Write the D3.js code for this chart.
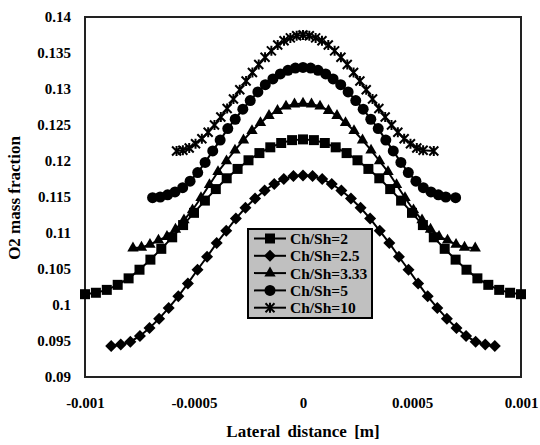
<!DOCTYPE html>
<html>
<head>
<meta charset="utf-8">
<script src="https://cdn.jsdelivr.net/npm/d3@7"></script>
<style>
  body { margin: 0; background: #fff; }
  text { font-family: "Liberation Serif", "Times New Roman", serif; font-weight: bold; fill: #000; }
</style>
</head>
<body>
<div id="chart"></div>
<script>
// tick labels
const xTicks = [-0.001, -0.0005, 0, 0.0005, 0.001];
const xTickLabels = ['-0.001', '-0.0005', '0', '0.0005', '0.001'];
const yTicks = [0.09, 0.095, 0.1, 0.105, 0.11, 0.115, 0.12, 0.125, 0.13, 0.135, 0.14];
const yTickLabels = ['0.09', '0.095', '0.1', '0.105', '0.11', '0.115', '0.12', '0.125', '0.13', '0.135', '0.14'];

const seriesNames = ['Ch/Sh=2', 'Ch/Sh=2.5', 'Ch/Sh=3.33', 'Ch/Sh=5', 'Ch/Sh=10'];

// Ch/Sh=2 (squares)
const x2 = [-0.001, -0.00095, -0.0009, -0.00085, -0.0008, -0.00075, -0.0007, -0.00065, -0.0006, -0.00055, -0.0005,
  -0.00045, -0.0004, -0.00035, -0.0003, -0.00025, -0.0002, -0.00015, -0.0001, -0.00005, 0,
  0.00005, 0.0001, 0.00015, 0.0002, 0.00025, 0.0003, 0.00035, 0.0004, 0.00045, 0.0005,
  0.00055, 0.0006, 0.00065, 0.0007, 0.00075, 0.0008, 0.00085, 0.0009, 0.00095, 0.001];
const y2 = [0.1015, 0.1017, 0.1021, 0.1028, 0.1037, 0.1049, 0.1063, 0.1078, 0.1094, 0.1111, 0.1128,
  0.1145, 0.1161, 0.1176, 0.1189, 0.1201, 0.1211, 0.1219, 0.1225, 0.1229, 0.1230,
  0.1229, 0.1225, 0.1219, 0.1211, 0.1201, 0.1189, 0.1176, 0.1161, 0.1145, 0.1128,
  0.1111, 0.1094, 0.1078, 0.1063, 0.1049, 0.1037, 0.1028, 0.1021, 0.1017, 0.1015];

// Ch/Sh=2.5 (diamonds)
const x25 = [-0.00088, -0.000836, -0.000792, -0.000748, -0.000704, -0.00066, -0.000616, -0.000572, -0.000528, -0.000484, -0.00044,
  -0.000396, -0.000352, -0.000308, -0.000264, -0.00022, -0.000176, -0.000132, -0.000088, -0.000044, 0,
  0.000044, 0.000088, 0.000132, 0.000176, 0.00022, 0.000264, 0.000308, 0.000352, 0.000396, 0.00044,
  0.000484, 0.000528, 0.000572, 0.000616, 0.00066, 0.000704, 0.000748, 0.000792, 0.000836, 0.00088];
const y25 = [0.0943, 0.0945, 0.0949, 0.0957, 0.0968, 0.0981, 0.0996, 0.1012, 0.1030, 0.1049, 0.1067,
  0.1086, 0.1103, 0.1120, 0.1135, 0.1148, 0.1159, 0.1168, 0.1175, 0.1179, 0.1180,
  0.1179, 0.1175, 0.1168, 0.1159, 0.1148, 0.1135, 0.1120, 0.1103, 0.1086, 0.1067,
  0.1049, 0.1030, 0.1012, 0.0996, 0.0981, 0.0968, 0.0957, 0.0949, 0.0945, 0.0943];

// Ch/Sh=3.33 (triangles)
const x333 = [-0.00078, -0.000741, -0.000702, -0.000663, -0.000624, -0.000585, -0.000546, -0.000507, -0.000468, -0.000429, -0.00039,
  -0.000351, -0.000312, -0.000273, -0.000234, -0.000195, -0.000156, -0.000117, -0.000078, -0.000039, 0,
  0.000039, 0.000078, 0.000117, 0.000156, 0.000195, 0.000234, 0.000273, 0.000312, 0.000351, 0.00039,
  0.000429, 0.000468, 0.000507, 0.000546, 0.000585, 0.000624, 0.000663, 0.000702, 0.000741, 0.00079];
const y333 = [0.1079, 0.1080, 0.1084, 0.1090, 0.1095, 0.1105, 0.1118, 0.1132, 0.1149, 0.1167, 0.1185,
  0.1200, 0.1215, 0.1229, 0.1242, 0.1253, 0.1263, 0.1270, 0.1276, 0.1279, 0.1280,
  0.1279, 0.1276, 0.1270, 0.1263, 0.1253, 0.1242, 0.1229, 0.1215, 0.1200, 0.1185,
  0.1167, 0.1149, 0.1132, 0.1118, 0.1105, 0.1095, 0.1090, 0.1084, 0.1080, 0.1079];

// Ch/Sh=5 (circles)
const x5 = [-0.00069, -0.000655, -0.000621, -0.000587, -0.000552, -0.000518, -0.000483, -0.000449, -0.000414, -0.00038, -0.000345,
  -0.000311, -0.000276, -0.000242, -0.000207, -0.000173, -0.000138, -0.000104, -0.000069, -0.000035, 0,
  0.000035, 0.000069, 0.000104, 0.000138, 0.000173, 0.000207, 0.000242, 0.000276, 0.000311, 0.000345,
  0.00038, 0.000414, 0.000449, 0.000483, 0.000518, 0.000552, 0.000587, 0.000621, 0.000655, 0.0007];
const y5 = [0.1149, 0.1150, 0.1153, 0.1157, 0.1163, 0.1172, 0.1184, 0.1198, 0.1214, 0.1229, 0.1245,
  0.1258, 0.1272, 0.1284, 0.1296, 0.1306, 0.1314, 0.1321, 0.1326, 0.1329, 0.1330,
  0.1329, 0.1326, 0.1321, 0.1314, 0.1306, 0.1296, 0.1284, 0.1272, 0.1258, 0.1245,
  0.1229, 0.1214, 0.1198, 0.1184, 0.1172, 0.1163, 0.1157, 0.1153, 0.1150, 0.1149];

// Ch/Sh=10 (crosses)
const x10 = [-0.00058, -0.000551, -0.000522, -0.000493, -0.000464, -0.000435, -0.000406, -0.000377, -0.000348, -0.000319, -0.00029,
  -0.000261, -0.000232, -0.000203, -0.000174, -0.000145, -0.000116, -0.000087, -0.000058, -0.000029, 0,
  0.000029, 0.000058, 0.000087, 0.000116, 0.000145, 0.000174, 0.000203, 0.000232, 0.000261, 0.00029,
  0.000319, 0.000348, 0.000377, 0.000406, 0.000435, 0.000464, 0.000493, 0.000522, 0.000551, 0.0006];
const y10 = [0.1214, 0.1215, 0.1218, 0.1224, 0.1231, 0.1240, 0.1250, 0.1261, 0.1273, 0.1286, 0.1299,
  0.1311, 0.1323, 0.1334, 0.1344, 0.1353, 0.1361, 0.1367, 0.1371, 0.1374, 0.1375,
  0.1374, 0.1371, 0.1367, 0.1361, 0.1353, 0.1344, 0.1334, 0.1323, 0.1311, 0.1299,
  0.1286, 0.1273, 0.1261, 0.1250, 0.1240, 0.1231, 0.1224, 0.1218, 0.1215, 0.1214];

const seriesX = [x2, x25, x333, x5, x10];
const seriesY = [y2, y25, y333, y5, y10];

const W = 540, H = 445;
const margin = { top: 17, right: 19, bottom: 68, left: 85 };
const width = W - margin.left - margin.right,
      height = H - margin.top - margin.bottom;

const svg = d3.select('#chart').append('svg')
  .attr('width', W).attr('height', H);

const g = svg.append('g').attr('transform', `translate(${margin.left},${margin.top})`);

const x = d3.scaleLinear().domain([-0.001, 0.001]).range([0, width]);
const y = d3.scaleLinear().domain([0.09, 0.14]).range([height, 0]);

// axes (labels only, no tick marks)
const xAxis = g.append('g')
  .attr('transform', `translate(0,${height})`)
  .call(d3.axisBottom(x).tickValues(xTicks).tickSize(0).tickPadding(20)
    .tickFormat((d, i) => xTickLabels[i]));
const yAxis = g.append('g')
  .call(d3.axisLeft(y).tickValues(yTicks).tickSize(0).tickPadding(14)
    .tickFormat((d, i) => yTickLabels[i]));
[xAxis, yAxis].forEach(a => {
  a.select('.domain').remove();
  a.selectAll('text').style('font-size', '15px').style('font-family', '"Liberation Serif", serif').style('font-weight', 'bold');
});

// frame
g.append('rect')
  .attr('width', width).attr('height', height)
  .attr('fill', 'none').attr('stroke', '#222').attr('stroke-width', 2);

// marker shapes
function marker(sel, i) {
  if (i === 0) {
    sel.append('rect').attr('x', -5).attr('y', -5).attr('width', 10).attr('height', 10).attr('fill', '#000');
  } else if (i === 1) {
    sel.append('path').attr('d', 'M0,-6L6,0L0,6L-6,0Z').attr('fill', '#000');
  } else if (i === 2) {
    sel.append('path').attr('d', d3.symbol(d3.symbolTriangle, 56)()).attr('fill', '#000');
  } else if (i === 3) {
    sel.append('circle').attr('r', 5.5).attr('fill', '#000');
  } else {
    sel.append('path').attr('d', 'M-4.5,-4.5L4.5,4.5M-4.5,4.5L4.5,-4.5M0,-5L0,5')
      .attr('stroke', '#000').attr('stroke-width', 2).attr('fill', 'none');
  }
}

const line = d3.line().x(d => x(d[0])).y(d => y(d[1]));

seriesNames.forEach((name, i) => {
  const pts = seriesX[i].map((v, j) => [v, seriesY[i][j]]);
  const sg = g.append('g');
  sg.append('path').datum(pts)
    .attr('d', line).attr('fill', 'none').attr('stroke', '#000').attr('stroke-width', 2);
  sg.selectAll('g.pt').data(pts).enter().append('g')
    .attr('class', 'pt')
    .attr('transform', d => `translate(${x(d[0])},${y(d[1])})`)
    .each(function () { marker(d3.select(this), i); });
});

// legend
const lg = svg.append('g').attr('transform', 'translate(248,229)');
lg.append('rect').attr('width', 124).attr('height', 89)
  .attr('fill', '#c0c0c0').attr('stroke', '#000').attr('stroke-width', 2);
seriesNames.forEach((name, i) => {
  const row = lg.append('g').attr('transform', `translate(0,${9.5 + i * 17.3})`);
  row.append('line').attr('x1', 6).attr('x2', 38).attr('stroke', '#000').attr('stroke-width', 2);
  const m = row.append('g').attr('transform', 'translate(22,0)');
  marker(m, i);
  row.append('text').attr('x', 42).attr('dy', '0.35em')
    .style('font-size', '15.5px').text(name);
});

// axis titles
svg.append('text')
  .attr('x', 303).attr('y', 437)
  .attr('text-anchor', 'middle')
  .style('font-size', '17px').style('word-spacing', '3px')
  .text('Lateral distance [m]');
svg.append('text')
  .attr('transform', 'translate(20,198) rotate(-90)')
  .attr('text-anchor', 'middle')
  .style('font-size', '17px')
  .text('O2 mass fraction');
</script>
</body>
</html>
